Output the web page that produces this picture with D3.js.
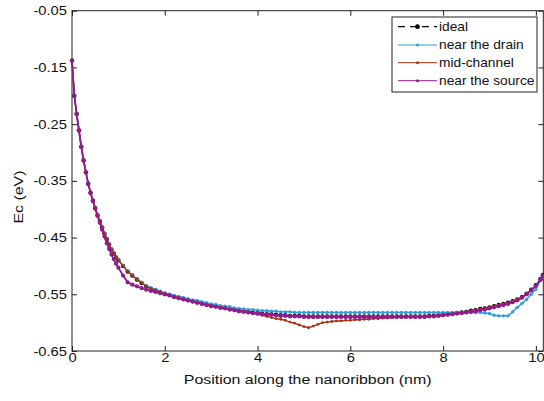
<!DOCTYPE html>
<html>
<head>
<meta charset="utf-8">
<script src="https://cdn.jsdelivr.net/npm/d3@7"></script>
<style>
body{margin:0;background:#fff}
text{font-family:"Liberation Sans",Arial,Helvetica,sans-serif;fill:#111}
</style>
</head>
<body>
<div id="chart"></div>
<script>
// position along the ribbon (nm)
const xs = [0,0.05,0.1,0.15,0.2,0.25,0.3,0.35,0.4,0.45,
  0.5,0.55,0.6,0.65,0.7,0.75,0.8,0.85,0.9,0.95,1.0,
  1.1,1.2,1.3,1.4,1.5,1.6,1.7,1.8,1.9,2.0,
  2.1,2.2,2.3,2.4,2.5,2.6,2.7,2.8,2.9,3.0,
  3.1,3.2,3.3,3.4,3.5,3.6,3.7,3.8,3.9,4.0,
  4.1,4.2,4.3,4.4,4.5,4.6,4.7,4.8,4.9,5.0,
  5.1,5.2,5.3,5.4,5.5,5.6,5.7,5.8,5.9,6.0,
  6.1,6.2,6.3,6.4,6.5,6.6,6.7,6.8,6.9,7.0,
  7.1,7.2,7.3,7.4,7.5,7.6,7.7,7.8,7.9,8.0,
  8.1,8.2,8.3,8.4,8.5,8.6,8.7,8.8,8.9,9.0,
  9.1,9.2,9.3,9.4,9.5,9.6,9.7,9.8,9.9,10.0,
  10.1,10.15];

const ideal = [-0.138,-0.200,-0.232,-0.261,-0.290,-0.314,-0.335,-0.355,-0.371,-0.385,
  -0.398,-0.410,-0.421,-0.432,-0.443,-0.453,-0.462,-0.471,-0.478,-0.485,-0.490,
  -0.500,-0.510,-0.517,-0.524,-0.530,-0.536,-0.540,-0.543,-0.546,-0.549,
  -0.551,-0.554,-0.556,-0.558,-0.560,-0.562,-0.564,-0.566,-0.568,-0.570,
  -0.571,-0.573,-0.574,-0.576,-0.577,-0.579,-0.580,-0.581,-0.582,-0.583,
  -0.584,-0.585,-0.585,-0.586,-0.587,-0.587,-0.588,-0.588,-0.588,-0.589,
  -0.589,-0.589,-0.589,-0.589,-0.589,-0.589,-0.589,-0.589,-0.589,-0.589,
  -0.589,-0.589,-0.589,-0.589,-0.589,-0.589,-0.589,-0.589,-0.589,-0.589,
  -0.589,-0.589,-0.589,-0.589,-0.589,-0.589,-0.588,-0.588,-0.587,-0.586,
  -0.585,-0.584,-0.583,-0.582,-0.581,-0.579,-0.578,-0.576,-0.575,-0.573,
  -0.571,-0.569,-0.567,-0.565,-0.562,-0.559,-0.555,-0.549,-0.542,-0.534,
  -0.523,-0.516];

const nearDrain = [-0.138,-0.200,-0.232,-0.261,-0.290,-0.314,-0.335,-0.355,-0.371,-0.385,
  -0.397,-0.409,-0.420,-0.431,-0.442,-0.452,-0.461,-0.470,-0.477,-0.484,-0.489,
  -0.499,-0.509,-0.516,-0.523,-0.529,-0.535,-0.539,-0.542,-0.545,-0.548,
  -0.550,-0.552,-0.554,-0.556,-0.558,-0.560,-0.561,-0.563,-0.565,-0.567,
  -0.568,-0.570,-0.571,-0.572,-0.574,-0.575,-0.576,-0.577,-0.577,-0.578,
  -0.579,-0.579,-0.580,-0.580,-0.581,-0.581,-0.581,-0.582,-0.582,-0.582,
  -0.582,-0.582,-0.582,-0.582,-0.582,-0.582,-0.582,-0.582,-0.582,-0.582,
  -0.582,-0.582,-0.582,-0.582,-0.582,-0.582,-0.582,-0.582,-0.582,-0.582,
  -0.582,-0.582,-0.582,-0.582,-0.582,-0.582,-0.582,-0.582,-0.582,-0.582,
  -0.582,-0.582,-0.582,-0.582,-0.582,-0.582,-0.582,-0.582,-0.583,-0.584,
  -0.587,-0.588,-0.588,-0.588,-0.581,-0.573,-0.566,-0.559,-0.550,-0.541,
  -0.526,-0.518];

const midChannel = [-0.138,-0.200,-0.232,-0.261,-0.290,-0.314,-0.335,-0.355,-0.371,-0.385,
  -0.398,-0.410,-0.421,-0.432,-0.443,-0.453,-0.462,-0.471,-0.478,-0.485,-0.490,
  -0.500,-0.510,-0.517,-0.524,-0.530,-0.536,-0.540,-0.543,-0.546,-0.549,
  -0.551,-0.554,-0.556,-0.558,-0.560,-0.562,-0.564,-0.566,-0.568,-0.570,
  -0.571,-0.573,-0.574,-0.576,-0.577,-0.579,-0.580,-0.581,-0.583,-0.585,
  -0.587,-0.589,-0.591,-0.593,-0.594,-0.596,-0.599,-0.601,-0.604,-0.607,
  -0.609,-0.606,-0.603,-0.600,-0.599,-0.598,-0.597,-0.597,-0.596,-0.596,
  -0.595,-0.595,-0.594,-0.594,-0.593,-0.593,-0.592,-0.592,-0.591,-0.591,
  -0.590,-0.590,-0.589,-0.589,-0.589,-0.589,-0.588,-0.588,-0.587,-0.586,
  -0.585,-0.584,-0.583,-0.582,-0.581,-0.579,-0.578,-0.576,-0.575,-0.573,
  -0.571,-0.569,-0.567,-0.565,-0.562,-0.559,-0.555,-0.549,-0.542,-0.534,
  -0.523,-0.516];

const nearSource = [-0.138,-0.200,-0.232,-0.261,-0.290,-0.314,-0.335,-0.355,-0.371,-0.385,
  -0.399,-0.412,-0.424,-0.436,-0.448,-0.460,-0.470,-0.480,-0.488,-0.496,-0.503,
  -0.517,-0.529,-0.533,-0.536,-0.539,-0.542,-0.544,-0.546,-0.548,-0.550,
  -0.552,-0.555,-0.557,-0.559,-0.561,-0.563,-0.565,-0.567,-0.569,-0.571,
  -0.572,-0.574,-0.575,-0.577,-0.578,-0.580,-0.581,-0.582,-0.583,-0.584,
  -0.585,-0.586,-0.586,-0.587,-0.588,-0.588,-0.589,-0.589,-0.589,-0.590,
  -0.590,-0.590,-0.590,-0.590,-0.590,-0.590,-0.590,-0.590,-0.590,-0.590,
  -0.590,-0.590,-0.590,-0.590,-0.590,-0.590,-0.590,-0.590,-0.590,-0.590,
  -0.590,-0.590,-0.590,-0.590,-0.590,-0.590,-0.589,-0.589,-0.588,-0.587,
  -0.586,-0.585,-0.584,-0.583,-0.582,-0.581,-0.580,-0.578,-0.577,-0.575,
  -0.573,-0.571,-0.569,-0.567,-0.564,-0.561,-0.556,-0.550,-0.543,-0.535,
  -0.524,-0.517];

const xTicks = [0,2,4,6,8,10];
const yTicks = [-0.65,-0.55,-0.45,-0.35,-0.25,-0.15,-0.05];
const seriesNames = ["ideal","near the drain","mid-channel","near the source"];

const W = 544, H = 401;
const plotL = 72, plotR = 543.3, plotT = 10.7, plotB = 351;
const sx = 1.18; // glyphs in the picture are a bit wide

const svg = d3.select("#chart").append("svg")
  .attr("width", W).attr("height", H);

const x = d3.scaleLinear().domain([0, 10.16]).range([plotL, plotR]);
const y = d3.scaleLinear().domain([-0.65, -0.05]).range([plotB, plotT]);

// axes, ticks pointing inward like matlab
const gx = svg.append("g").attr("transform", "translate(0," + plotB + ")")
  .call(d3.axisBottom(x).tickValues(xTicks).tickSizeInner(-5).tickSizeOuter(0).tickPadding(2)
    .tickFormat(d3.format("d")));
const gy = svg.append("g").attr("transform", "translate(" + plotL + ",0)")
  .call(d3.axisLeft(y).tickValues(yTicks).tickSizeInner(-5).tickSizeOuter(0).tickPadding(5)
    .tickFormat(d => d.toFixed(2)));
svg.append("g").attr("transform", "translate(0," + plotT + ")")
  .call(d3.axisTop(x).tickValues(xTicks).tickSizeInner(-5).tickSizeOuter(0).tickFormat(""));
svg.append("g").attr("transform", "translate(" + plotR + ",0)")
  .call(d3.axisRight(y).tickValues(yTicks).tickSizeInner(-5).tickSizeOuter(0).tickFormat(""));

svg.selectAll(".domain").remove();
svg.selectAll(".tick line").attr("stroke", "#222");
gx.selectAll("text").attr("font-size", 12.5).attr("fill", "#111")
  .attr("transform", "scale(" + sx + ",1)");
gy.selectAll("text").attr("font-size", 12.5).attr("fill", "#111")
  .attr("x", -5 / sx).attr("transform", "scale(" + sx + ",1)");

svg.append("rect")
  .attr("x", plotL).attr("y", plotT)
  .attr("width", plotR - plotL).attr("height", plotB - plotT)
  .attr("fill", "none").attr("stroke", "#222").attr("stroke-width", 1);

// curves
const series = [
  {name: seriesNames[0], vals: ideal, color: "#000000", dash: "6,4", r: 2.2, w: 1},
  {name: seriesNames[1], vals: nearDrain, color: "#2f9fd8", dash: null, r: 1.7, w: 1.5},
  {name: seriesNames[2], vals: midChannel, color: "#a8300e", dash: null, r: 1.4, w: 1.4},
  {name: seriesNames[3], vals: nearSource, color: "#94198f", dash: null, r: 2.1, w: 1.8}
];

const line = d3.line().x((d, i) => x(xs[i])).y(d => y(d));

series.forEach(s => {
  const g = svg.append("g");
  g.append("path").datum(s.vals)
    .attr("d", line)
    .attr("fill", "none")
    .attr("stroke", s.color)
    .attr("stroke-width", s.w)
    .attr("stroke-dasharray", s.dash);
  g.selectAll("circle").data(s.vals).enter().append("circle")
    .attr("cx", (d, i) => x(xs[i]))
    .attr("cy", d => y(d))
    .attr("r", s.r)
    .attr("fill", s.color);
});

// axis titles
svg.append("text")
  .attr("transform", "translate(" + ((plotL + plotR) / 2) + ",384) scale(" + sx + ",1)")
  .attr("text-anchor", "middle").attr("font-size", 13.5)
  .text("Position along the nanoribbon (nm)");
svg.append("text")
  .attr("transform", "translate(23,197) rotate(-90) scale(" + sx + ",1)")
  .attr("text-anchor", "middle").attr("font-size", 13.5)
  .text("Ec (eV)");

// legend
const lg = svg.append("g");
lg.append("rect")
  .attr("x", 392).attr("y", 17).attr("width", 145).attr("height", 75)
  .attr("fill", "#fff").attr("stroke", "#222").attr("stroke-width", 1);
const rowY = [26.7, 45, 62.7, 80.7];
series.forEach((s, i) => {
  lg.append("line")
    .attr("x1", 398).attr("x2", 437).attr("y1", rowY[i]).attr("y2", rowY[i])
    .attr("stroke", s.color).attr("stroke-width", i === 0 ? 1.2 : 1)
    .attr("stroke-dasharray", s.dash ? "7,5" : null);
  lg.append("circle").attr("cx", 417.5).attr("cy", rowY[i])
    .attr("r", i === 0 ? 2.4 : 1.5).attr("fill", s.color);
  lg.append("text")
    .attr("transform", "translate(439," + (rowY[i] + 4.3) + ") scale(1.1,1)")
    .attr("font-size", 12.5)
    .text(s.name);
});
</script>
</body>
</html>
